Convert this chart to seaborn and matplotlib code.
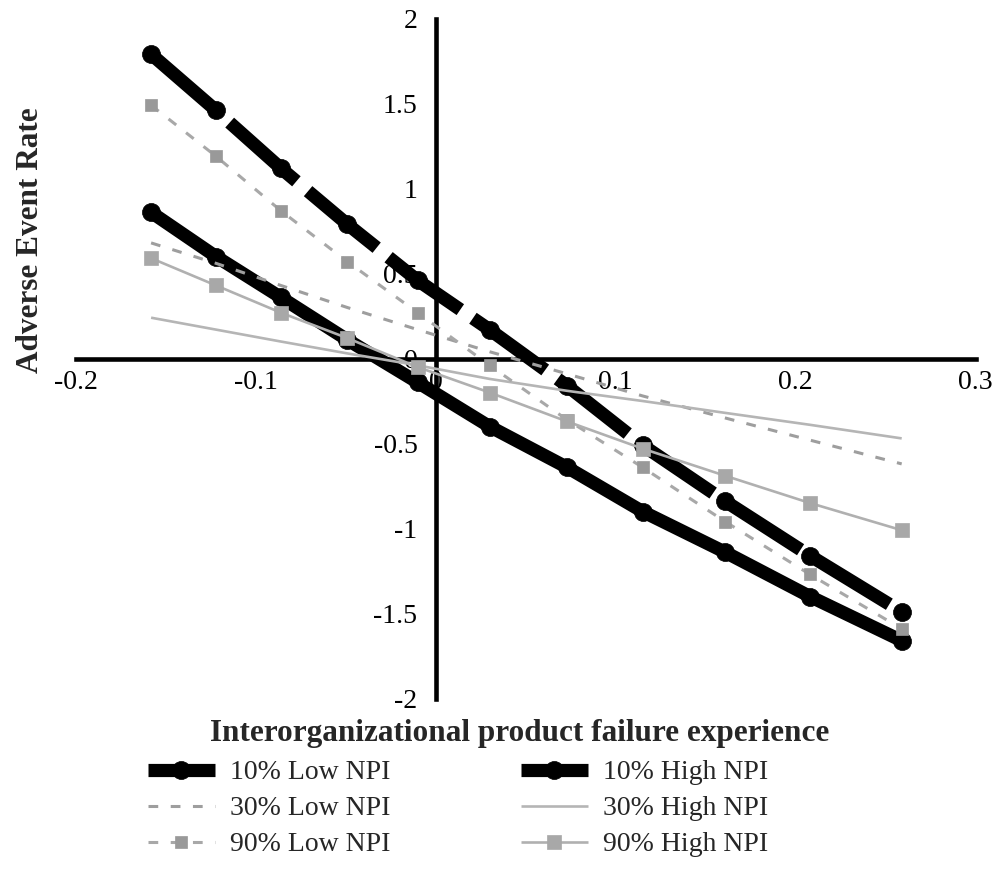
import matplotlib
matplotlib.use("Agg")
import matplotlib.pyplot as plt
import seaborn as sns
import numpy as np
import pandas as pd

# ---- data ----
x_vals = [-0.158, -0.122, -0.086, -0.049, -0.010, 0.030, 0.073, 0.115, 0.161, 0.208, 0.259]
low10 = [1.79, 1.46, 1.12, 0.79, 0.46, 0.17, -0.16, -0.51, -0.84, -1.16, -1.49]
low30 = [0.68, 0.56, 0.43, 0.30, 0.17, 0.04, -0.09, -0.22, -0.35, -0.48, -0.62]
low90 = [1.49, 1.19, 0.87, 0.57, 0.27, -0.04, -0.36, -0.64, -0.96, -1.27, -1.59]
high10 = [0.86, 0.60, 0.36, 0.11, -0.14, -0.40, -0.64, -0.90, -1.14, -1.40, -1.66]
high30 = [0.24, 0.17, 0.10, 0.03, -0.04, -0.12, -0.19, -0.25, -0.32, -0.39, -0.47]
high90 = [0.59, 0.43, 0.27, 0.12, -0.05, -0.20, -0.37, -0.53, -0.69, -0.85, -1.01]

series_names = ["10% Low NPI", "30% Low NPI", "90% Low NPI",
                "10% High NPI", "30% High NPI", "90% High NPI"]
series_values = [low10, low30, low90, high10, high30, high90]

x_ticks = [-0.2, -0.1, 0, 0.1, 0.2, 0.3]
x_ticklabels = ["-0.2", "-0.1", "0", "0.1", "0.2", "0.3"]
y_ticks = [2, 1.5, 1, 0.5, 0, -0.5, -1, -1.5, -2]
y_ticklabels = ["2", "1.5", "1", "0.5", "0", "-0.5", "-1", "-1.5", "-2"]

df = pd.DataFrame({
    "x": np.tile(x_vals, len(series_names)),
    "y": np.concatenate(series_values),
    "series": np.repeat(series_names, len(x_vals)),
})

# ---- style ----
sns.set_style("white")
plt.rcParams["font.family"] = ["Liberation Serif", "DejaVu Serif"]
plt.rcParams["axes.unicode_minus"] = False
plt.rcParams["lines.scale_dashes"] = False

styles = {
    "10% Low NPI": dict(color="black", lw=9.5, marker="o", ms=13, mfc="black", mec="black",
                        dashes=(64, 11), z=3),
    "10% High NPI": dict(color="black", lw=9.5, marker="o", ms=13, mfc="black", mec="black",
                         dashes=None, z=3.1),
    "30% Low NPI": dict(color="#9e9e9e", lw=2.2, marker=None, ms=0, mfc=None, mec=None,
                        dashes=(7, 9), z=4),
    "30% High NPI": dict(color="#b5b5b5", lw=1.9, marker=None, ms=0, mfc=None, mec=None,
                         dashes=None, z=4.1),
    "90% Low NPI": dict(color="#a8a8a8", lw=2.2, marker="s", ms=8.5, mfc="#999999", mec="#999999",
                        dashes=(7, 9), z=4.2),
    "90% High NPI": dict(color="#b0b0b0", lw=1.9, marker="s", ms=9.5, mfc="#a8a8a8", mec="#a8a8a8",
                         dashes=None, z=4.3),
}

fig = plt.figure(figsize=(10.02, 8.83), dpi=100)
ax = fig.add_axes([75.5 / 1002, 1 - 698.5 / 883, 900 / 1002, 680 / 883])

handles = {}
for name in series_names:
    st = styles[name]
    sub = df[df["series"] == name]
    kw = dict(color=st["color"], lw=st["lw"], sort=False, legend=False, errorbar=None,
              zorder=st["z"], ax=ax)
    if st["marker"]:
        kw.update(marker=st["marker"], markersize=st["ms"], markerfacecolor=st["mfc"],
                  markeredgecolor=st["mec"], markeredgewidth=0.5)
    sns.lineplot(data=sub, x="x", y="y", **kw)
    line = ax.lines[-1]
    if st["dashes"] is not None:
        line.set_linestyle((0, st["dashes"]))
    line.set_solid_capstyle("butt")
    handles[name] = line

ax.set_xlim(-0.2, 0.3)
ax.set_ylim(-2, 2)
ax.set_xticks(x_ticks)
ax.set_xticklabels(x_ticklabels)
ax.set_yticks(y_ticks)
ax.set_yticklabels(y_ticklabels)
ax.set_xlabel("")
ax.set_ylabel("")

for side in ["top", "right"]:
    ax.spines[side].set_visible(False)
ax.spines["left"].set_position(("data", 0))
ax.spines["bottom"].set_position(("data", 0))
for side in ["left", "bottom"]:
    ax.spines[side].set_linewidth(3.3)
    ax.spines[side].set_color("black")
    ax.spines[side].set_zorder(1)
ax.set_axisbelow(True)
ax.tick_params(axis="both", which="major", direction="out", length=4, width=3,
               color="black", labelsize=20, labelcolor="black")
ax.tick_params(axis="x", pad=4)
ax.tick_params(axis="y", pad=9)
ax.grid(False)
ax.set_facecolor("white")

fig.text(31 / 1002, 1 - 240 / 883, "Adverse Event Rate", rotation=90, fontsize=22.5,
         fontweight="bold", ha="center", va="center")
fig.text(520 / 1002, 1 - 733 / 883, "Interorganizational product failure experience",
         fontsize=22.5, fontweight="bold", ha="center", va="center")

leg = fig.legend([handles[n] for n in series_names], series_names, ncol=2,
                 loc="upper left", bbox_to_anchor=(148 / 1002, 1 - 760 / 883),
                 frameon=False, fontsize=20, handlelength=2.4, handletextpad=0.55,
                 columnspacing=4.7, labelspacing=0.38, borderpad=0, borderaxespad=0)

fig.savefig("out.png", dpi=100, facecolor="white")
